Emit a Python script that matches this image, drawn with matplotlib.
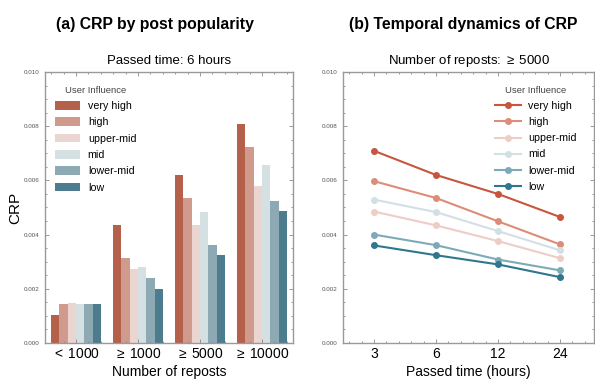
import matplotlib
matplotlib.use("Agg")
import matplotlib.pyplot as plt
import numpy as np
from matplotlib.ticker import MultipleLocator

plt.rcParams['font.family'] = ['Liberation Sans', 'DejaVu Sans']
plt.rcParams['mathtext.fontset'] = 'custom'
plt.rcParams['mathtext.rm'] = 'Liberation Sans'

influence = ['very high', 'high', 'upper-mid', 'mid', 'lower-mid', 'low']
repost_cats = [r'$<\,$1000', r'$\geq\,$1000', r'$\geq\,$5000', r'$\geq\,$10000']
time_cats = ['3', '6', '12', '24']

# panel (a): CRP by post popularity (6 hours), one list per influence level
crp_vh = [0.00104, 0.00434, 0.00621, 0.00808]
crp_h = [0.00145, 0.00312, 0.00535, 0.00723]
crp_um = [0.00147, 0.00273, 0.00434, 0.00579]
crp_m = [0.00145, 0.00282, 0.00483, 0.00655]
crp_lm = [0.00145, 0.00239, 0.00361, 0.00525]
crp_l = [0.00145, 0.00200, 0.00325, 0.00488]
bar_data = [crp_vh, crp_h, crp_um, crp_m, crp_lm, crp_l]

# panel (b): temporal dynamics (>= 5000 reposts)
t_vh = [0.00709, 0.00620, 0.00550, 0.00465]
t_h = [0.00597, 0.00535, 0.00449, 0.00364]
t_um = [0.00485, 0.00434, 0.00376, 0.00313]
t_m = [0.00529, 0.00483, 0.00413, 0.00342]
t_lm = [0.00400, 0.00361, 0.00308, 0.00268]
t_l = [0.00360, 0.00324, 0.00290, 0.00243]
line_data = [t_vh, t_h, t_um, t_m, t_lm, t_l]

bar_colors = ['#B5604B', '#D09A8C', '#EAD5D0', '#D5E0E3', '#8DAAB4', '#4C7C8D']
line_colors = ['#C8553E', '#DD8C78', '#EECDC6', '#D2E0E6', '#7DAAB9', '#2F768E']

fig = plt.figure(figsize=(5.95, 3.9), dpi=100)
ax1 = fig.add_axes([0.0756, 0.1205, 0.4168, 0.695])
ax2 = fig.add_axes([0.5765, 0.1205, 0.4218, 0.695])

def style(ax):
    for s in ax.spines.values():
        s.set_color('#999999')
        s.set_linewidth(1.0)
    ax.set_ylim(0, 0.010)
    ax.yaxis.set_major_locator(MultipleLocator(0.002))
    ax.yaxis.set_minor_locator(MultipleLocator(0.0005))
    ax.xaxis.set_minor_locator(MultipleLocator(0.2))
    ax.tick_params(which='both', direction='in', top=True, right=True,
                   color='#888888', width=0.6)
    ax.tick_params(which='major', length=3)
    ax.tick_params(which='minor', length=1.5)
    ax.tick_params(axis='y', labelsize=4.5, labelcolor='#555555', pad=4)
    ax.tick_params(axis='x', labelsize=10, pad=3)
    ax.yaxis.set_major_formatter(matplotlib.ticker.FormatStrFormatter('%.3f'))

# panel (a)
x = np.arange(len(repost_cats))
n = len(influence)
w = 0.8 / n
for i, (vals, c, lab) in enumerate(zip(bar_data, bar_colors, influence)):
    ax1.bar(x - 0.4 + w * (i + 0.5), vals, width=w, color=c, label=lab)
style(ax1)
ax1.set_xlim(-0.5, 3.5)
ax1.set_xticks(x)
ax1.set_xticklabels(repost_cats)
ax1.set_xlabel('Number of reposts', fontsize=10, labelpad=3)
ax1.set_ylabel('CRP', fontsize=11, labelpad=1)
ax1.set_title('Passed time: 6 hours', fontsize=9.5, pad=6)
leg1 = ax1.legend(title='User Influence', loc='upper left', frameon=False,
                  fontsize=7.7, title_fontsize=6.8, handlelength=2.4,
                  handleheight=0.9, labelspacing=0.58, borderaxespad=0.5,
                  handletextpad=0.7, bbox_to_anchor=(0.0, 0.985))
leg1.get_title().set_color('#444444')

# panel (b)
xt = np.arange(len(time_cats))
for vals, c, lab in zip(line_data, line_colors, influence):
    ax2.plot(xt, vals, color=c, lw=1.5, marker='o', ms=4, label=lab)
style(ax2)
ax2.set_xlim(-0.5, 3.55)
ax2.set_xticks(xt)
ax2.set_xticklabels(time_cats)
ax2.set_xlabel('Passed time (hours)', fontsize=10, labelpad=3)
ax2.set_title(r'Number of reposts: $\geq\,$5000', fontsize=9.5, pad=6)
handles, labels = ax2.get_legend_handles_labels()
leg2 = ax2.legend(handles, labels, title='User Influence', loc='upper right',
                  frameon=False, fontsize=7.7, title_fontsize=6.8,
                  handlelength=2.4, labelspacing=0.58, borderaxespad=0.5,
                  handletextpad=0.7, bbox_to_anchor=(0.97, 0.985))
leg2.get_title().set_color('#444444')

fig.text(0.261, 0.938, '(a) CRP by post popularity', fontsize=11.3,
         fontweight='bold', ha='center', va='center')
fig.text(0.779, 0.938, '(b) Temporal dynamics of CRP', fontsize=11.3,
         fontweight='bold', ha='center', va='center')

fig.savefig('out.png', dpi=100)
